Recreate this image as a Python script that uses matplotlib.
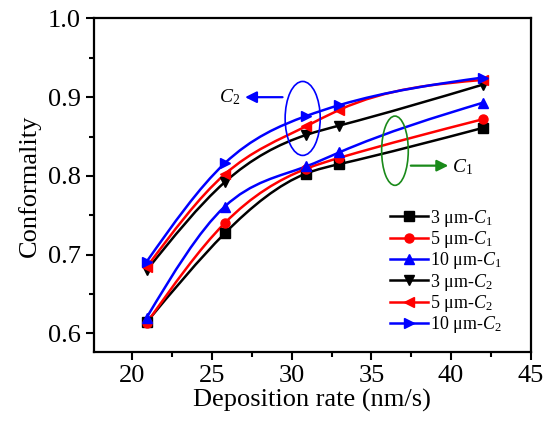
import numpy as np
import matplotlib
matplotlib.use('Agg')
import matplotlib.pyplot as plt
from matplotlib.path import Path
from matplotlib.patches import PathPatch, Ellipse
from matplotlib.lines import Line2D

plt.rcParams['font.family'] = ['Liberation Serif', 'DejaVu Serif']
plt.rcParams['mathtext.fontset'] = 'custom'
plt.rcParams['mathtext.rm'] = 'Liberation Serif'
plt.rcParams['mathtext.it'] = 'Liberation Serif:italic'

# deposition rate (nm/s)
rate = [20.9, 25.8, 30.9, 33.0, 42.0]

# conformality, C1
c1_3um = [0.614, 0.727, 0.803, 0.815, 0.861]
c1_5um = [0.613, 0.740, 0.809, 0.823, 0.872]
c1_10um = [0.620, 0.761, 0.812, 0.830, 0.893]
# conformality, C2
c2_3um = [0.680, 0.792, 0.852, 0.864, 0.916]
c2_5um = [0.684, 0.802, 0.863, 0.884, 0.922]
c2_10um = [0.691, 0.816, 0.876, 0.890, 0.925]

series = [
    (c1_3um, 'black', 's', r'3 μm-$\mathit{C}_{\mathrm{1}}$'),
    (c1_5um, 'red', 'o', r'5 μm-$\mathit{C}_{\mathrm{1}}$'),
    (c1_10um, 'blue', '^', r'10 μm-$\mathit{C}_{\mathrm{1}}$'),
    (c2_3um, 'black', 'v', r'3 μm-$\mathit{C}_{\mathrm{2}}$'),
    (c2_5um, 'red', '<', r'5 μm-$\mathit{C}_{\mathrm{2}}$'),
    (c2_10um, 'blue', '>', r'10 μm-$\mathit{C}_{\mathrm{2}}$'),
]


# natural cubic spline through the data points, drawn as Bezier segments
def smooth_path(x, y):
    x = np.asarray(x, float)
    y = np.asarray(y, float)
    n = len(x)
    h = np.diff(x)
    A = np.zeros((n, n))
    r = np.zeros(n)
    A[0, 0] = A[-1, -1] = 1
    for i in range(1, n - 1):
        A[i, i - 1] = h[i - 1]
        A[i, i] = 2 * (h[i - 1] + h[i])
        A[i, i + 1] = h[i]
        r[i] = 6 * ((y[i + 1] - y[i]) / h[i] - (y[i] - y[i - 1]) / h[i - 1])
    M = np.linalg.solve(A, r)
    verts = [(x[0], y[0])]
    codes = [Path.MOVETO]
    for i in range(n - 1):
        s = (y[i + 1] - y[i]) / h[i]
        d0 = s - h[i] * (2 * M[i] + M[i + 1]) / 6
        d1 = s + h[i] * (M[i] + 2 * M[i + 1]) / 6
        dx = h[i] / 3
        verts += [(x[i] + dx, y[i] + d0 * dx),
                  (x[i + 1] - dx, y[i + 1] - d1 * dx),
                  (x[i + 1], y[i + 1])]
        codes += [Path.CURVE4] * 3
    return Path(verts, codes)


fig = plt.figure(figsize=(5.5, 4.3), dpi=100)
ax = fig.add_axes([0.171, 0.181, 0.794, 0.776])

handles = []
for vals, col, mk, lab in series:
    ax.add_patch(PathPatch(smooth_path(rate, vals), fill=False,
                           edgecolor=col, lw=1.8, zorder=2))
    ax.plot(rate, vals, ls='none', marker=mk, color=col, ms=6.5, zorder=3)
    handles.append(Line2D([], [], color=col, lw=1.8, marker=mk, ms=6.5, label=lab))

# C2 group
ax.add_patch(Ellipse((30.69, 0.873), 2.2, 0.094, fill=False,
                     edgecolor='blue', lw=1.2, zorder=4))
ax.annotate('', xy=(26.9, 0.900), xytext=(29.6, 0.900),
            arrowprops=dict(arrowstyle='-|>', color='blue', lw=1.6,
                            mutation_scale=17))
ax.text(26.75, 0.900, r'$\mathit{C}_{\mathrm{2}}$', ha='right', va='center',
        fontsize=14)

# C1 group
ax.add_patch(Ellipse((36.48, 0.832), 1.67, 0.088, fill=False,
                     edgecolor='#1a8a1a', lw=1.2, zorder=4))
ax.annotate('', xy=(40.0, 0.813), xytext=(37.3, 0.813),
            arrowprops=dict(arrowstyle='-|>', color='#1a8a1a', lw=1.6,
                            mutation_scale=17))
ax.text(40.05, 0.811, r'$\mathit{C}_{\mathrm{1}}$', ha='left', va='center',
        fontsize=14)

ax.set_xlim(17.6, 45)
ax.set_ylim(0.576, 1.0)
ax.set_xticks([20, 25, 30, 35, 40, 45])
ax.set_xticks(np.arange(22.5, 45, 5), minor=True)
ax.set_yticks([0.6, 0.7, 0.8, 0.9, 1.0])
ax.set_yticks([0.65, 0.75, 0.85, 0.95], minor=True)
ax.set_yticklabels(['0.6', '0.7', '0.8', '0.9', '1.0'])
ax.tick_params(which='both', direction='out', width=1.5, labelsize=19)
ax.tick_params(which='major', length=6)
ax.tick_params(which='minor', length=3.5)
ax.tick_params(top=False, right=False)
for s in ax.spines.values():
    s.set_linewidth(1.6)

ax.set_xlabel('Deposition rate (nm/s)', fontsize=19, labelpad=1)
ax.set_ylabel('Conformality', fontsize=19, labelpad=5)

ax.legend(handles=handles, loc='lower right', bbox_to_anchor=(0.958, 0.018),
          frameon=False, fontsize=13, handlelength=2.1, handletextpad=0.1,
          labelspacing=0.02, borderaxespad=0.2)

fig.savefig('out.png', dpi=100)
